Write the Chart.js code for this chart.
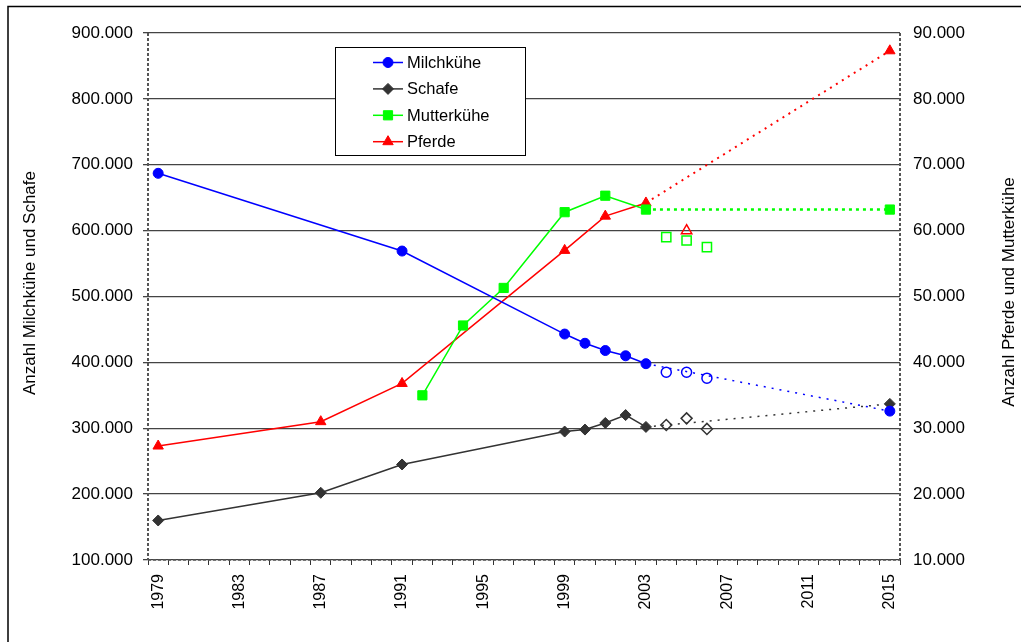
<!DOCTYPE html>
<html>
<head>
<meta charset="utf-8">
<script src="https://cdn.jsdelivr.net/npm/chart.js@4.4.1/dist/chart.umd.min.js"></script>
<style>
html,body{margin:0;padding:0;background:#fff;}
canvas{display:block;}
</style>
</head>
<body>
<canvas id="c" width="1021" height="642"></canvas>
<script>
// ---- data ----
const years = [];
for (let y = 1979; y <= 2015; y++) years.push(y);

const milchYears = [1979, 1991, 1999, 2000, 2001, 2002, 2003];
const milchValues = [687000, 569000, 443000, 429000, 418000, 410000, 398000];
const milchTrendYears = [2003, 2015];
const milchTrendValues = [398000, 326000];
const milchOpenYears = [2004, 2005, 2006];
const milchOpenValues = [385000, 385000, 376000];

const schafeYears = [1979, 1987, 1991, 1999, 2000, 2001, 2002, 2003];
const schafeValues = [160000, 202000, 245000, 295000, 298000, 308000, 320000, 302000];
const schafeTrendYears = [2003, 2015];
const schafeTrendValues = [302000, 337000];
const schafeOpenYears = [2004, 2005, 2006];
const schafeOpenValues = [305000, 315000, 299000];

const mutterYears = [1992, 1994, 1996, 1999, 2001, 2003];
const mutterValues = [35000, 45600, 51300, 62800, 65300, 63200];
const mutterTrendYears = [2003, 2015];
const mutterTrendValues = [63200, 63200];
const mutterOpenYears = [2004, 2005, 2006];
const mutterOpenValues = [59000, 58500, 57500];

const pferdeYears = [1979, 1987, 1991, 1999, 2001, 2003];
const pferdeValues = [27300, 31000, 36800, 57000, 62200, 64200];
const pferdeTrendYears = [2003, 2015];
const pferdeTrendValues = [64200, 87300];
const pferdeOpenYears = [2005];
const pferdeOpenValues = [60000];

const leftTicks = [100000, 200000, 300000, 400000, 500000, 600000, 700000, 800000, 900000];
const rightTicks = [10000, 20000, 30000, 40000, 50000, 60000, 70000, 80000, 90000];

const leftTitle = 'Anzahl Milchkühe und Schafe';
const rightTitle = 'Anzahl Pferde und Mutterkühe';
const legendItems = [
  {label: 'Milchkühe', color: '#0000FF', style: 'circle', r: 5},
  {label: 'Schafe', color: '#333333', style: 'rectRot', r: 5.5},
  {label: 'Mutterkühe', color: '#00FF00', style: 'rect', r: 6.5},
  {label: 'Pferde', color: '#FF0000', style: 'triangle', r: 6}
];

// ---- helpers ----
const pts = (xs, ys) => xs.map((x, i) => ({x: x, y: ys[i]}));
const fmt = v => Math.round(v).toString().replace(/\B(?=(\d{3})+(?!\d))/g, '.');
const FONT = "'Liberation Sans', Arial, sans-serif";

function solid(label, xs, ys, color, style, r, axis) {
  return {label, data: pts(xs, ys), yAxisID: axis, borderColor: color, backgroundColor: color,
    borderWidth: 1.5, pointStyle: style, pointRadius: r, pointBorderWidth: 1, pointBorderColor: color,
    pointBackgroundColor: color, tension: 0, spanGaps: true};
}
function trend(label, xs, ys, color, style, r, axis, dash, w) {
  return {label, data: pts(xs, ys), yAxisID: axis, borderColor: color, backgroundColor: color,
    borderWidth: w, borderDash: dash, pointStyle: style, pointRadius: [0, r], pointBorderWidth: 1,
    pointBorderColor: color, pointBackgroundColor: color, tension: 0};
}
function open(label, xs, ys, color, style, r, axis) {
  return {label, data: pts(xs, ys), yAxisID: axis, showLine: false, borderColor: color,
    backgroundColor: 'rgba(0,0,0,0)', pointStyle: style, pointRadius: r, pointBorderWidth: 1.5,
    pointBorderColor: color, pointBackgroundColor: 'rgba(0,0,0,0)'};
}

const frameAndTitles = {
  id: 'frameAndTitles',
  beforeDraw(chart) {
    const ctx = chart.ctx;
    ctx.save();
    ctx.fillStyle = '#fff';
    ctx.fillRect(0, 0, chart.width, chart.height);
    ctx.strokeStyle = '#000';
    ctx.lineWidth = 1.5;
    ctx.beginPath();
    ctx.moveTo(8, 642); ctx.lineTo(8, 6.5); ctx.lineTo(1021, 6.5);
    ctx.stroke();
    ctx.restore();
  },
  beforeDatasetsDraw(chart) {
    const ctx = chart.ctx, a = chart.chartArea;
    ctx.save();
    ctx.strokeStyle = '#555';
    ctx.lineWidth = 2;
    ctx.setLineDash([3, 2]);
    ctx.beginPath();
    ctx.moveTo(a.left, a.top); ctx.lineTo(a.left, a.bottom);
    ctx.moveTo(a.right, a.top); ctx.lineTo(a.right, a.bottom);
    ctx.stroke();
    ctx.lineWidth = 1.5;
    ctx.beginPath();
    ctx.moveTo(a.left, a.bottom); ctx.lineTo(a.right, a.bottom);
    ctx.stroke();
    ctx.restore();
  },
  afterDraw(chart) {
    const ctx = chart.ctx;
    [[leftTitle, 30, 283], [rightTitle, 1009, 292]].forEach(([t, x, y]) => {
      ctx.save();
      ctx.fillStyle = '#000';
      ctx.font = '17px ' + FONT;
      ctx.textAlign = 'center';
      ctx.textBaseline = 'middle';
      ctx.translate(x, y);
      ctx.rotate(-Math.PI / 2);
      ctx.fillText(t, 0, 0);
      ctx.restore();
    });
  }
};

const boxLegend = {
  id: 'boxLegend',
  afterDatasetsDraw(chart) {
    const ctx = chart.ctx;
    ctx.save();
    ctx.fillStyle = '#fff';
    ctx.fillRect(335, 47, 191, 109);
    ctx.strokeStyle = '#000';
    ctx.lineWidth = 1;
    ctx.strokeRect(335.5, 47.5, 190, 108);
    ctx.font = '16.5px ' + FONT;
    ctx.textBaseline = 'middle';
    ctx.textAlign = 'left';
    legendItems.forEach((it, i) => {
      const y = 62.5 + i * 26.4;
      ctx.strokeStyle = it.color;
      ctx.lineWidth = 1.5;
      ctx.beginPath();
      ctx.moveTo(373, y); ctx.lineTo(403, y);
      ctx.stroke();
      ctx.fillStyle = it.color;
      ctx.strokeStyle = it.color;
      ctx.lineWidth = 1;
      Chart.helpers.drawPoint(ctx, {pointStyle: it.style, radius: it.r, rotation: 0, borderWidth: 1}, 388, y);
      ctx.fillStyle = '#000';
      ctx.fillText(it.label, 407, y + 1);
    });
    ctx.restore();
  }
};

new Chart(document.getElementById('c'), {
  type: 'line',
  data: {
    labels: years,
    datasets: [
      trend('Milchkühe Trend', milchTrendYears, milchTrendValues, '#0000FF', 'circle', 5, 'y', [2, 6], 1.5),
      trend('Schafe Trend', schafeTrendYears, schafeTrendValues, '#333333', 'rectRot', 5.5, 'y', [2, 6], 1.5),
      trend('Mutterkühe Trend', mutterTrendYears, mutterTrendValues, '#00FF00', 'rect', 6.5, 'y2', [3, 4], 2.5),
      trend('Pferde Trend', pferdeTrendYears, pferdeTrendValues, '#FF0000', 'triangle', 6, 'y2', [2, 5], 2),
      open('Milchkühe offen', milchOpenYears, milchOpenValues, '#0000FF', 'circle', 5, 'y'),
      open('Schafe offen', schafeOpenYears, schafeOpenValues, '#333333', 'rectRot', 5.5, 'y'),
      open('Mutterkühe offen', mutterOpenYears, mutterOpenValues, '#00FF00', 'rect', 6.5, 'y2'),
      open('Pferde offen', pferdeOpenYears, pferdeOpenValues, '#FF0000', 'triangle', 6, 'y2'),
      solid('Milchkühe', milchYears, milchValues, '#0000FF', 'circle', 5, 'y'),
      solid('Schafe', schafeYears, schafeValues, '#333333', 'rectRot', 5.5, 'y'),
      solid('Mutterkühe', mutterYears, mutterValues, '#00FF00', 'rect', 6.5, 'y2'),
      solid('Pferde', pferdeYears, pferdeValues, '#FF0000', 'triangle', 6, 'y2')
    ]
  },
  options: {
    responsive: false,
    animation: false,
    layout: {padding: {top: 33, left: 0, right: 0, bottom: 0}},
    plugins: {legend: {display: false}, tooltip: {enabled: false}},
    scales: {
      x: {
        type: 'category',
        offset: true,
        afterFit(s) { s.height = 82; },
        grid: {offset: true, drawOnChartArea: false, drawTicks: true, tickLength: 5, color: '#333', lineWidth: 1},
        border: {display: false},
        ticks: {
          autoSkip: false, minRotation: 90, maxRotation: 90, padding: 9, color: '#000',
          font: {family: FONT, size: 16},
          callback(val) {
            const lab = this.getLabelForValue(val);
            return (Number(lab) - 1979) % 4 === 0 ? String(lab) : '';
          }
        }
      },
      y: {
        type: 'linear', position: 'left', min: 100000, max: 900000,
        afterFit(s) { s.width = 148; },
        afterBuildTicks(s) { s.ticks = leftTicks.map(v => ({value: v})); },
        grid: {color: '#444', lineWidth: 1.3, drawTicks: true, tickLength: 5},
        border: {display: false},
        ticks: {padding: 10, color: '#000', font: {family: FONT, size: 17}, callback: v => fmt(v)}
      },
      y2: {
        type: 'linear', position: 'right', min: 10000, max: 90000,
        afterFit(s) { s.width = 121; },
        afterBuildTicks(s) { s.ticks = rightTicks.map(v => ({value: v})); },
        grid: {drawOnChartArea: false, drawTicks: false},
        border: {display: false},
        ticks: {padding: 13, color: '#000', font: {family: FONT, size: 17}, callback: v => fmt(v)}
      }
    }
  },
  plugins: [frameAndTitles, boxLegend]
});
</script>
</body>
</html>
